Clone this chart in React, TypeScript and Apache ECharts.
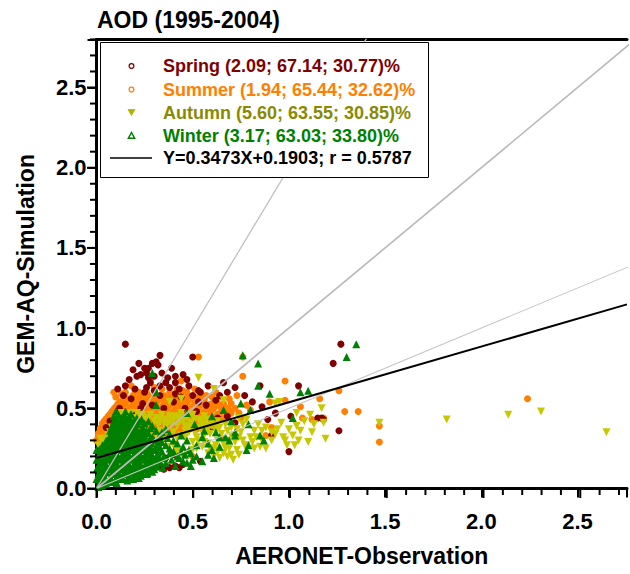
import React, { useEffect, useRef } from "react";
import * as echarts from "echarts";

// ---- data -------------------------------------------------------------
const seasonNames = ["Spring", "Summer", "Autumn", "Winter"];
const seasonStats = ["2.09; 67.14; 30.77", "1.94; 65.44; 32.62", "5.60; 63.55; 30.85", "3.17; 63.03; 33.80"];
const seasonTextColors = ["#800000", "#FF8000", "#8A8A00", "#008000"];
const seasonMarkColors = ["#800000", "#FF8000", "#C8C800", "#008000"];

const fitSlope = 0.3473;
const fitIntercept = 0.1903;
const fitR = 0.5787;

const X_MAX = 2.757;
const Y_MAX = 2.8;
const MAJOR_STEP = 0.5;
const MINOR_STEP = 0.1;

// AERONET (x) vs GEM-AQ (y) daily AOD pairs per season
const spring: number[][] = [
  [0.15,0.90],[0.33,0.83],[0.31,0.79],[0.32,0.77],[0.25,0.75],[0.27,0.75],[0.50,0.82],[0.21,0.70],[0.23,0.71],[0.27,0.69],
  [0.45,0.71],[0.41,0.70],[0.15,0.64],[0.28,0.66],[0.36,0.66],[0.41,0.66],[0.38,0.63],[0.41,0.59],[0.25,0.60],[0.24,0.53],
  [0.40,0.54],[0.53,0.54],[0.23,0.50],[0.07,0.42],[0.03,0.31],[0.48,0.64],[0.53,0.61],[0.54,0.60],[0.66,0.66],[0.72,0.63],
  [0.85,0.64],[0.64,0.58],[0.81,0.54],[0.86,0.51],[1.05,0.64],[1.15,0.44],[0.89,0.43],[0.63,0.44],[0.57,0.52],[0.60,0.38],
  [0.72,0.41],[0.91,0.33],[1.00,0.23],[1.01,0.45],[1.27,0.90],[1.23,0.78],[1.26,0.36],[1.18,0.43],[1.17,0.44],
  [0.18,0.56],[0.29,0.52],[0.33,0.58],[0.35,0.50],[0.12,0.50],[0.20,0.47],[0.46,0.50],[0.30,0.61],
  [0.17,0.68],[0.19,0.74],[0.20,0.62],[0.22,0.78],[0.26,0.72],[0.29,0.78],[0.30,0.70],[0.34,0.72],[0.37,0.69],[0.39,0.75],
  [0.43,0.62],[0.47,0.68],[0.14,0.58],[0.11,0.62],[0.26,0.63],[0.33,0.64],[0.44,0.57],[0.50,0.58],[0.58,0.64],[0.62,0.55],
  [0.68,0.60],[0.77,0.58],[0.93,0.47],[0.52,0.48],[0.05,0.38],[0.68,0.45],
  [0.35,0.12],[0.38,0.13],[0.41,0.14],[0.43,0.13],[0.45,0.15],[0.54,0.17],[0.36,0.19],[0.40,0.21],[0.33,0.14],
];

const summer: number[][] = [
  [0.15,0.57],[0.19,0.58],[0.23,0.57],[0.27,0.58],[0.31,0.57],[0.35,0.58],[0.40,0.57],[0.44,0.58],[0.48,0.57],[0.53,0.57],
  [0.14,0.565],[0.18,0.56],[0.22,0.565],[0.26,0.56],[0.30,0.565],[0.34,0.56],[0.38,0.565],[0.42,0.56],[0.46,0.565],[0.50,0.56],[0.55,0.565],
  [0.12,0.54],[0.16,0.55],[0.20,0.54],[0.24,0.55],[0.28,0.54],[0.32,0.55],[0.36,0.54],[0.40,0.55],[0.44,0.54],[0.48,0.55],[0.52,0.54],[0.56,0.55],[0.61,0.54],
  [0.11,0.525],[0.15,0.53],[0.19,0.525],[0.23,0.53],[0.27,0.525],[0.31,0.53],[0.35,0.525],[0.39,0.53],[0.43,0.525],[0.47,0.53],[0.51,0.525],[0.55,0.53],[0.59,0.525],[0.63,0.53],[0.66,0.52],
  [0.10,0.51],[0.14,0.52],[0.18,0.51],[0.22,0.52],[0.26,0.51],[0.30,0.52],[0.34,0.51],[0.38,0.52],[0.42,0.51],[0.46,0.52],[0.50,0.51],[0.54,0.52],[0.58,0.51],[0.63,0.52],[0.68,0.50],
  [0.09,0.495],[0.13,0.50],[0.17,0.495],[0.21,0.50],[0.25,0.495],[0.29,0.50],[0.33,0.495],[0.37,0.50],[0.41,0.495],[0.45,0.50],[0.49,0.495],[0.53,0.50],[0.57,0.495],[0.61,0.50],[0.65,0.495],[0.69,0.49],
  [0.08,0.48],[0.12,0.49],[0.16,0.48],[0.20,0.49],[0.24,0.48],[0.28,0.49],[0.32,0.48],[0.36,0.49],[0.40,0.48],[0.44,0.49],[0.48,0.48],[0.52,0.49],[0.56,0.48],[0.60,0.49],[0.65,0.48],[0.70,0.47],
  [0.07,0.465],[0.11,0.47],[0.15,0.465],[0.19,0.47],[0.23,0.465],[0.27,0.47],[0.31,0.465],[0.35,0.47],[0.39,0.465],[0.43,0.47],[0.47,0.465],[0.51,0.47],[0.55,0.465],[0.59,0.47],[0.63,0.465],[0.68,0.46],
  [0.06,0.45],[0.10,0.46],[0.14,0.45],[0.18,0.46],[0.22,0.45],[0.26,0.46],[0.30,0.45],[0.34,0.46],[0.38,0.45],[0.42,0.46],[0.46,0.45],[0.50,0.46],[0.54,0.45],[0.58,0.46],[0.62,0.45],[0.66,0.44],
  [0.05,0.435],[0.09,0.44],[0.13,0.435],[0.17,0.44],[0.21,0.435],[0.25,0.44],[0.29,0.435],[0.33,0.44],[0.37,0.435],[0.41,0.44],[0.45,0.435],[0.49,0.44],[0.53,0.435],[0.57,0.44],[0.61,0.435],[0.64,0.43],
  [0.04,0.42],[0.08,0.43],[0.12,0.42],[0.16,0.43],[0.20,0.42],[0.24,0.43],[0.28,0.42],[0.32,0.43],[0.36,0.42],[0.40,0.43],[0.44,0.42],[0.48,0.43],[0.52,0.42],[0.56,0.43],[0.60,0.42],
  [0.03,0.405],[0.07,0.41],[0.11,0.405],[0.15,0.41],[0.19,0.405],[0.23,0.41],[0.27,0.405],[0.31,0.41],[0.35,0.405],[0.39,0.41],[0.43,0.405],[0.47,0.41],[0.51,0.405],[0.55,0.41],[0.59,0.40],
  [0.03,0.39],[0.07,0.40],[0.11,0.39],[0.15,0.40],[0.19,0.39],[0.23,0.40],[0.27,0.39],[0.31,0.40],[0.35,0.39],[0.39,0.40],[0.43,0.39],[0.47,0.40],[0.51,0.39],[0.55,0.38],
  [0.02,0.375],[0.05,0.38],[0.09,0.375],[0.13,0.38],[0.17,0.375],[0.21,0.38],[0.25,0.375],[0.29,0.38],[0.33,0.375],[0.37,0.38],[0.41,0.375],[0.45,0.38],[0.49,0.375],[0.52,0.37],
  [0.02,0.36],[0.06,0.37],[0.10,0.36],[0.14,0.37],[0.18,0.36],[0.22,0.37],[0.26,0.36],[0.30,0.37],[0.34,0.36],[0.38,0.37],[0.43,0.36],
  [0.01,0.345],[0.04,0.35],[0.08,0.345],[0.12,0.35],[0.16,0.345],[0.20,0.35],[0.24,0.345],[0.28,0.35],[0.32,0.345],[0.36,0.35],[0.40,0.345],
  [0.01,0.33],[0.05,0.34],[0.09,0.33],[0.13,0.34],[0.17,0.33],[0.21,0.34],[0.25,0.33],[0.30,0.34],[0.35,0.33],
  [0.01,0.315],[0.03,0.32],[0.07,0.315],[0.11,0.32],[0.15,0.315],[0.19,0.32],[0.23,0.315],
  [0.00,0.30],[0.04,0.31],[0.08,0.30],[0.12,0.31],[0.17,0.30],
  [0.10,0.57],[0.13,0.59],[0.20,0.61],[0.26,0.60],[0.30,0.63],[0.38,0.60],[0.42,0.62],[0.47,0.60],[0.51,0.62],[0.57,0.58],
  [0.60,0.57],[0.66,0.53],[0.72,0.50],[0.69,0.56],[0.74,0.47],[0.78,0.52],[0.62,0.60],
  [0.09,0.60],[0.15,0.60],[0.18,0.64],[0.22,0.60],[0.28,0.68],[0.34,0.62],[0.44,0.67],[0.45,0.61],[0.53,0.82],[0.54,0.59],
  [0.05,0.42],[0.02,0.36],[0.76,0.70],[0.76,0.82],[0.98,0.67],[0.70,0.53],[0.73,0.58],[0.90,0.54],[0.98,0.55],[1.06,0.51],
  [0.80,0.49],[0.91,0.38],[0.88,0.33],[1.07,0.44],[1.16,0.56],[1.26,0.61],[1.29,0.48],[1.36,0.48],[1.18,0.44],[1.12,0.43],
  [1.47,0.39],[1.47,0.29],[2.24,0.56],[0.66,0.31],[0.50,0.20],[0.24,0.09],[0.75,0.44],[0.64,0.57],
];

const autumn: number[][] = [
  [0.01,0.27],[0.02,0.31],[0.04,0.29],[0.06,0.33],[0.09,0.36],[0.11,0.40],[0.14,0.43],[0.16,0.46],[0.19,0.44],[0.22,0.45],
  [0.25,0.43],[0.28,0.46],[0.31,0.44],[0.32,0.40],[0.34,0.46],[0.36,0.43],[0.38,0.54],[0.39,0.40],[0.41,0.45],[0.43,0.42],
  [0.44,0.47],[0.46,0.39],[0.47,0.44],[0.49,0.41],[0.50,0.46],[0.52,0.38],[0.53,0.43],[0.55,0.40],[0.56,0.45],[0.58,0.37],
  [0.60,0.42],[0.62,0.39],[0.53,0.69],[0.61,0.62],[0.66,0.55],[0.44,0.56],
  [0.03,0.30],[0.05,0.31],[0.07,0.35],[0.08,0.38],[0.10,0.41],[0.12,0.44],[0.13,0.47],[0.18,0.47],[0.21,0.47],[0.24,0.46],
  [0.27,0.44],[0.30,0.42],[0.33,0.43],[0.35,0.41],[0.37,0.41],[0.38,0.45],[0.40,0.43],[0.42,0.39],[0.43,0.44],[0.45,0.42],
  [0.46,0.36],[0.48,0.38],[0.48,0.46],[0.50,0.40],[0.51,0.43],[0.51,0.35],[0.54,0.37],[0.54,0.42],[0.57,0.39],[0.57,0.43],
  [0.59,0.34],[0.60,0.39],[0.62,0.36],[0.63,0.42],[0.64,0.38],[0.67,0.40],[0.68,0.36],[0.70,0.38],[0.70,0.33],[0.68,0.30],
  [0.74,0.32],[0.75,0.35],[0.76,0.30],
  [0.36,0.38],[0.40,0.35],[0.44,0.33],[0.48,0.35],[0.52,0.32],[0.56,0.33],[0.58,0.28],[0.61,0.25],[0.63,0.30],[0.65,0.34],
  [0.66,0.28],[0.61,0.20],[0.66,0.22],[0.58,0.22],[0.71,0.18],[0.69,0.25],[0.72,0.29],[0.73,0.37],[0.74,0.44],[0.76,0.40],
  [0.78,0.43],[0.78,0.27],[0.80,0.32],[0.82,0.36],[0.82,0.25],[0.85,0.26],[0.86,0.30],[0.88,0.25],[0.88,0.38],[0.91,0.35],
  [0.91,0.30],[0.93,0.53],[0.95,0.54],[0.96,0.41],[0.97,0.32],[0.99,0.27],[1.00,0.37],[1.02,0.33],[1.03,0.27],[1.04,0.39],
  [1.04,0.47],[1.08,0.42],[1.10,0.29],[1.11,0.46],[1.12,0.35],[1.17,0.50],[1.18,0.41],[1.19,0.31],
  [0.33,0.36],[0.34,0.33],[0.38,0.33],[0.42,0.31],[0.46,0.32],[0.50,0.29],[0.53,0.30],[0.56,0.29],[0.59,0.25],[0.62,0.27],
  [0.63,0.23],[0.64,0.19],[0.67,0.25],[0.68,0.20],[0.73,0.24],[0.74,0.21],[0.81,0.29],[0.83,0.32],[0.84,0.40],[0.86,0.36],
  [0.93,0.34],[0.94,0.37],[0.98,0.30],[1.05,0.30],[1.06,0.36],[1.13,0.40],
  [0.42,0.23],[0.47,0.22],[0.52,0.25],[0.37,0.26],[0.32,0.31],[0.28,0.34],[0.25,0.37],
  [1.47,0.41],[1.82,0.43],[2.14,0.46],[2.31,0.48],[2.65,0.35],
  [0.20,0.30],[0.25,0.25],[0.30,0.28],[0.35,0.31],[0.40,0.27],[0.15,0.33],[0.45,0.20],[0.50,0.24],[0.55,0.26],[0.70,0.21],[0.77,0.27],
];

const winter: number[][] = [
  [0.01,0.01],[0.03,0.02],[0.05,0.03],[0.02,0.04],
  [0.015,0.035],[0.045,0.035],[0.075,0.04],[0.105,0.035],
  [0.00,0.06],[0.04,0.05],[0.07,0.06],[0.10,0.05],[0.13,0.06],[0.16,0.05],[0.19,0.06],
  [0.015,0.065],[0.045,0.07],[0.075,0.065],[0.105,0.07],[0.135,0.065],[0.165,0.07],[0.195,0.075],[0.22,0.065],
  [0.01,0.09],[0.04,0.08],[0.08,0.09],[0.11,0.08],[0.14,0.09],[0.17,0.08],[0.20,0.09],[0.23,0.08],[0.26,0.09],
  [0.025,0.095],[0.055,0.10],[0.085,0.095],[0.115,0.10],[0.145,0.095],[0.175,0.10],[0.205,0.095],[0.235,0.10],[0.265,0.095],[0.29,0.105],
  [0.00,0.12],[0.03,0.11],[0.06,0.12],[0.09,0.11],[0.12,0.12],[0.15,0.11],[0.18,0.12],[0.21,0.11],[0.24,0.12],[0.27,0.11],[0.30,0.12],
  [0.015,0.125],[0.045,0.13],[0.075,0.125],[0.105,0.13],[0.135,0.125],[0.165,0.13],[0.195,0.125],[0.225,0.13],[0.255,0.125],[0.285,0.13],[0.315,0.135],[0.345,0.13],
  [0.02,0.15],[0.05,0.14],[0.08,0.15],[0.11,0.14],[0.14,0.15],[0.17,0.14],[0.20,0.15],[0.23,0.14],[0.26,0.15],[0.29,0.14],[0.32,0.16],[0.41,0.14],[0.49,0.14],
  [0.015,0.155],[0.045,0.16],[0.075,0.155],[0.105,0.16],[0.135,0.155],[0.165,0.16],[0.195,0.155],[0.225,0.16],[0.255,0.155],[0.285,0.16],[0.315,0.165],[0.36,0.16],[0.47,0.16],
  [0.00,0.18],[0.03,0.17],[0.06,0.18],[0.09,0.17],[0.12,0.18],[0.15,0.17],[0.18,0.18],[0.21,0.17],[0.24,0.18],[0.27,0.17],[0.30,0.18],[0.33,0.17],[0.39,0.18],[0.45,0.17],[0.50,0.18],[0.55,0.17],
  [0.015,0.185],[0.045,0.19],[0.075,0.185],[0.105,0.19],[0.135,0.185],[0.165,0.19],[0.195,0.185],[0.225,0.19],[0.255,0.185],[0.285,0.19],[0.315,0.195],[0.35,0.19],[0.43,0.19],
  [0.02,0.21],[0.05,0.20],[0.08,0.21],[0.11,0.20],[0.14,0.21],[0.17,0.20],[0.20,0.21],[0.23,0.20],[0.26,0.21],[0.29,0.20],[0.32,0.21],[0.35,0.20],[0.38,0.22],[0.42,0.20],[0.46,0.21],[0.52,0.20],[0.58,0.21],[0.61,0.19],
  [0.015,0.215],[0.045,0.22],[0.075,0.215],[0.105,0.22],[0.135,0.215],[0.165,0.22],[0.195,0.215],[0.225,0.22],[0.255,0.215],[0.285,0.22],[0.32,0.225],[0.40,0.23],[0.49,0.22],
  [0.00,0.24],[0.03,0.23],[0.06,0.24],[0.09,0.23],[0.12,0.24],[0.15,0.23],[0.18,0.24],[0.21,0.23],[0.24,0.24],[0.27,0.23],[0.30,0.24],[0.34,0.23],[0.38,0.25],[0.44,0.23],[0.48,0.24],[0.60,0.24],[0.64,0.26],
  [0.015,0.245],[0.045,0.25],[0.075,0.245],[0.105,0.25],[0.135,0.245],[0.165,0.25],[0.195,0.245],[0.225,0.25],[0.255,0.245],[0.285,0.25],[0.33,0.255],
  [0.03,0.27],[0.06,0.26],[0.09,0.27],[0.12,0.26],[0.15,0.27],[0.18,0.26],[0.21,0.27],[0.24,0.26],[0.27,0.27],[0.31,0.26],[0.36,0.27],[0.45,0.26],[0.52,0.27],[0.58,0.28],
  [0.045,0.28],[0.075,0.275],[0.105,0.28],[0.135,0.275],[0.165,0.28],[0.195,0.275],[0.225,0.28],[0.255,0.275],[0.285,0.28],[0.32,0.285],[0.42,0.28],
  [0.05,0.30],[0.08,0.29],[0.11,0.30],[0.14,0.29],[0.17,0.30],[0.20,0.29],[0.23,0.30],[0.26,0.29],[0.30,0.30],[0.34,0.29],[0.40,0.30],[0.47,0.30],[0.55,0.32],
  [0.065,0.31],[0.095,0.305],[0.125,0.31],[0.155,0.305],[0.185,0.31],[0.215,0.305],[0.245,0.31],[0.275,0.305],[0.32,0.31],[0.37,0.315],
  [0.07,0.33],[0.10,0.32],[0.13,0.33],[0.16,0.32],[0.19,0.33],[0.22,0.32],[0.25,0.33],[0.29,0.32],[0.33,0.33],[0.38,0.34],[0.44,0.33],
  [0.085,0.34],[0.115,0.335],[0.145,0.34],[0.175,0.335],[0.205,0.34],[0.235,0.335],[0.27,0.345],[0.34,0.35],
  [0.07,0.36],[0.10,0.35],[0.13,0.36],[0.16,0.35],[0.19,0.36],[0.22,0.35],[0.26,0.36],[0.31,0.36],[0.36,0.37],
  [0.085,0.37],[0.115,0.365],[0.145,0.37],[0.175,0.365],[0.205,0.37],[0.24,0.365],[0.28,0.375],
  [0.08,0.39],[0.11,0.38],[0.14,0.39],[0.17,0.38],[0.20,0.39],[0.24,0.38],[0.29,0.39],
  [0.095,0.40],[0.125,0.395],[0.155,0.40],[0.185,0.395],[0.215,0.40],[0.25,0.405],
  [0.09,0.42],[0.12,0.41],[0.15,0.42],[0.18,0.41],[0.22,0.42],[0.27,0.42],
  [0.105,0.43],[0.135,0.425],[0.165,0.43],[0.195,0.425],[0.235,0.43],
  [0.09,0.45],[0.13,0.44],[0.17,0.45],[0.21,0.44],
  [0.115,0.46],[0.145,0.455],[0.18,0.465],
  [0.10,0.48],[0.15,0.48],[0.31,0.52],[0.29,0.72],[0.31,0.60],[0.51,0.40],
  [0.56,0.36],[0.62,0.35],[0.64,0.32],[0.67,0.32],[0.69,0.30],[0.72,0.33],[0.72,0.35],[0.79,0.27],[0.78,0.24],[0.79,0.40],
  [0.85,0.33],[0.87,0.30],[0.66,0.49],[0.75,0.53],[0.80,0.49],[0.84,0.64],[0.90,0.59],[0.76,0.83],[0.84,0.78],[1.02,0.44],
  [1.06,0.60],[1.10,0.61],[1.30,0.82],[1.35,0.90],[0.60,0.45],[0.70,0.42],[0.47,0.47],
];

// ---- layout & styling ---------------------------------------------------
const CHART_W = 630;
const CHART_H = 574;
const GRID = { left: 96.5, right: 0, top: 39.4, bottom: 85.5 };
const PLOT_W = CHART_W - GRID.left - GRID.right;
const PLOT_H = CHART_H - GRID.top - GRID.bottom;

const FONT = '"Liberation Sans", Arial, Helvetica, sans-serif';

const axisText = { fontFamily: FONT, fontSize: 22, fontWeight: "bold" as const, color: "#000" };
const nameText = { fontFamily: FONT, fontSize: 23, fontWeight: "bold" as const, color: "#000" };

const onMajorStep = (v: number) => Math.abs(v / MAJOR_STEP - Math.round(v / MAJOR_STEP)) < 1e-6;

// tick values every 0.1 up to the end of each axis
function tickValues(max: number): number[] {
  const out: number[] = [];
  for (let i = 0; i * MINOR_STEP <= max + 1e-9; i++) out.push(Math.round(i * MINOR_STEP * 10) / 10);
  return out;
}

function valueAxis(kind: "x" | "y", max: number, name: string, nameGap: number, margin: number) {
  return {
    type: "value",
    min: 0,
    max,
    interval: MAJOR_STEP,
    position: kind === "x" ? "bottom" : "left",
    name,
    nameLocation: "middle",
    nameGap,
    nameTextStyle: nameText,
    axisLine: { show: true, onZero: false, lineStyle: { color: "#000", width: 3 } },
    axisTick: { show: true, inside: false, length: 9, lineStyle: { color: "#000", width: 2 } },
    axisLabel: {
      show: true,
      margin,
      formatter: (v: number) => (onMajorStep(v) ? v.toFixed(1) : ""),
      ...axisText,
    },
    splitLine: { show: false },
  };
}

function frameAxis(kind: "x" | "y", max: number) {
  return {
    type: "value",
    min: 0,
    max,
    position: kind === "x" ? "top" : "right",
    axisLine: { show: kind === "x", onZero: false, lineStyle: { color: "#000", width: 3 } },
    axisTick: { show: false },
    axisLabel: { show: false },
    splitLine: { show: false },
  };
}

// outward minor/major tick marks along the bottom and left axis lines, as filled bars
function buildTicks() {
  const els: any[] = [];
  const axisY = GRID.top + PLOT_H;
  const axisX = GRID.left;
  tickValues(X_MAX).forEach((v) => {
    const px = GRID.left + (v / X_MAX) * PLOT_W;
    const len = onMajorStep(v) ? 9.5 : 6.5;
    els.push({
      type: "rect",
      shape: { x: px - 1, y: axisY, width: 2, height: len },
      style: { fill: "#000", stroke: null },
      z: 120,
    });
  });
  tickValues(Y_MAX).forEach((v) => {
    const py = GRID.top + (1 - v / Y_MAX) * PLOT_H;
    const len = onMajorStep(v) ? 9.5 : 6.5;
    els.push({
      type: "rect",
      shape: { x: axisX - len, y: py - 1, width: len, height: 2 },
      style: { fill: "#000", stroke: null },
      z: 120,
    });
  });
  return els;
}

function buildLegend() {
  const left = 100.5;
  const top = 42.5;
  const rowY = [66, 89.5, 112.5, 135.5, 158];
  const symX = 131.5;
  const textX = 163;
  const els: any[] = [
    {
      type: "rect",
      shape: { x: left, y: top, width: 328, height: 135 },
      style: { fill: "#fff", stroke: "#000", lineWidth: 1 },
      z: 100,
    },
  ];
  seasonNames.forEach((s, i) => {
    const y = rowY[i];
    const c = seasonMarkColors[i];
    if (i < 2) {
      els.push({ type: "circle", shape: { cx: symX, cy: y, r: 2.4 }, style: { fill: "#fff", stroke: c, lineWidth: 1.3 }, z: 101 });
    } else if (i === 2) {
      els.push({
        type: "polygon",
        shape: { points: [[symX - 3.5, y - 3], [symX + 3.5, y - 3], [symX, y + 3]] },
        style: { fill: "#B4B400", stroke: "#B4B400", lineWidth: 0.8 },
        z: 101,
      });
    } else {
      els.push({
        type: "polygon",
        shape: { points: [[symX - 3.2, y + 2.8], [symX + 3.2, y + 2.8], [symX, y - 3]] },
        style: { fill: "#fff", stroke: c, lineWidth: 1.4 },
        z: 101,
      });
    }
    els.push({
      type: "text",
      x: textX,
      y,
      style: {
        text: `${s} (${seasonStats[i]})%`,
        fill: seasonTextColors[i],
        fontFamily: FONT,
        fontSize: 18,
        fontWeight: "bold",
        verticalAlign: "middle",
      },
      z: 101,
    });
  });
  els.push({
    type: "line",
    shape: { x1: 110, y1: rowY[4], x2: 152, y2: rowY[4] },
    style: { stroke: "#000", lineWidth: 1.6 },
    z: 101,
  });
  els.push({
    type: "text",
    x: textX,
    y: rowY[4],
    style: {
      text: `Y=${fitSlope.toFixed(4)}X+${fitIntercept.toFixed(4)}; r = ${fitR.toFixed(4)}`,
      fill: "#000",
      fontFamily: FONT,
      fontSize: 18,
      fontWeight: "bold",
      verticalAlign: "middle",
    },
    z: 101,
  });
  return els;
}

function scatterSeries(name: string, data: number[][], color: string, symbol: string, size: number, rotate = 0) {
  return {
    name,
    type: "scatter",
    data,
    symbol,
    symbolSize: size,
    symbolRotate: rotate,
    itemStyle: { color, opacity: 1 },
    emphasis: { disabled: true },
    silent: true,
    z: 2,
  };
}

function refLine(data: number[][], color: string, width: number) {
  return {
    type: "line",
    data,
    showSymbol: false,
    symbol: "none",
    lineStyle: { color, width },
    silent: true,
    z: 3,
  };
}

export default function App() {
  const ref = useRef<HTMLDivElement>(null);

  useEffect(() => {
    if (!ref.current) return;
    const chart = echarts.init(ref.current, undefined, { renderer: "svg" });
    chart.setOption({
      animation: false,
      backgroundColor: "#fff",
      title: {
        text: "AOD (1995-2004)",
        left: 97,
        top: 8,
        padding: 0,
        textStyle: { fontFamily: FONT, fontSize: 23, fontWeight: "bold", color: "#000" },
      },
      grid: { ...GRID, containLabel: false },
      xAxis: [valueAxis("x", X_MAX, "AERONET-Observation", 56, 22), frameAxis("x", X_MAX)],
      yAxis: [valueAxis("y", Y_MAX, "GEM-AQ-Simulation", 59, 10), frameAxis("y", Y_MAX)],
      series: [
        scatterSeries(seasonNames[1], summer, seasonMarkColors[1], "circle", 7),
        scatterSeries(seasonNames[0], spring, seasonMarkColors[0], "circle", 7),
        scatterSeries(seasonNames[2], autumn, seasonMarkColors[2], "triangle", 8, 180),
        scatterSeries(seasonNames[3], winter, seasonMarkColors[3], "triangle", 8),
        refLine([[0, 0], [1.5, 3]], "#C0C0C0", 1.3),
        refLine([[0, 0], [3, 3]], "#BBBBBB", 1.7),
        refLine([[0, 0], [3, 1.5]], "#C8C8C8", 1.1),
        refLine([[0, fitIntercept], [X_MAX, fitSlope * X_MAX + fitIntercept]], "#000", 2),
      ],
      graphic: [...buildLegend(), ...buildTicks()],
    });
    return () => chart.dispose();
  }, []);

  return <div ref={ref} style={{ position: "fixed", left: 0, top: 0, width: CHART_W, height: CHART_H }} />;
}
